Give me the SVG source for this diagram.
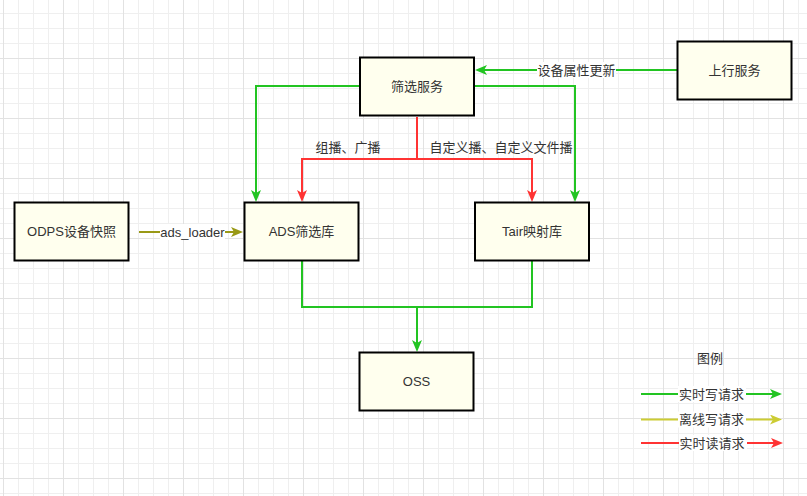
<svg xmlns="http://www.w3.org/2000/svg" width="807" height="496" viewBox="0 0 807 496">
  <defs>
    <pattern id="grid" patternUnits="userSpaceOnUse" x="3" y="-2" width="60" height="60">
      <path d="M15.5,0 V60 M30.5,0 V60 M45.5,0 V60 M0,15.5 H60 M0,30.5 H60 M0,45.5 H60" stroke="#efefef" stroke-width="1" fill="none"/>
      <path d="M0.5,0 V60 M0,0.5 H60" stroke="#e2e2e2" stroke-width="1" fill="none"/>
    </pattern>
    <marker id="ag" viewBox="0 0 12 10" refX="6" refY="5" markerWidth="12" markerHeight="10" markerUnits="userSpaceOnUse" orient="auto">
      <path d="M0,0 L12,5 L0,10 L3,5 Z" fill="#22c422"/>
    </marker>
    <marker id="ar" viewBox="0 0 12 10" refX="6" refY="5" markerWidth="12" markerHeight="10" markerUnits="userSpaceOnUse" orient="auto">
      <path d="M0,0 L12,5 L0,10 L3,5 Z" fill="#ff3333"/>
    </marker>
    <marker id="ao" viewBox="0 0 12 10" refX="6" refY="5" markerWidth="12" markerHeight="10" markerUnits="userSpaceOnUse" orient="auto">
      <path d="M0,0 L12,5 L0,10 L3,5 Z" fill="#999916"/>
    </marker>
    <marker id="ay" viewBox="0 0 12 10" refX="6" refY="5" markerWidth="12" markerHeight="10" markerUnits="userSpaceOnUse" orient="auto">
      <path d="M0,0 L12,5 L0,10 L3,5 Z" fill="#cccc33"/>
    </marker>
  </defs>
  <style>
    .box { fill: #ffffee; stroke: #000000; stroke-width: 2; }
    .t { font-family: "Liberation Sans", "Noto Sans CJK SC", sans-serif; font-size: 13px; fill: #333333; text-anchor: middle; }
    .g { fill: none; stroke: #22c422; stroke-width: 2; }
    .r { fill: none; stroke: #ff3333; stroke-width: 2; }
    .o { fill: none; stroke: #999916; stroke-width: 2; }
    .y { fill: none; stroke: #cccc33; stroke-width: 2; }
    .bg { fill: #ffffff; }
  </style>
  <rect x="0" y="0" width="807" height="496" fill="#ffffff"/>
  <rect x="0" y="0" width="807" height="496" fill="url(#grid)"/>

  <g id="connectors">
    <path class="g" d="M677,70 H481" marker-end="url(#ag)"/>
    <rect class="bg" x="537" y="62" width="79" height="16"/>
    <text class="t" x="576.5" y="74.5">设备属性更新</text>

    <path class="g" d="M360,86 H256 V196" marker-end="url(#ag)"/>
    <path class="g" d="M474,86 H575 V196" marker-end="url(#ag)"/>

    <path class="r" d="M417,117 V159 H302 V196" marker-end="url(#ar)"/>
    <path class="r" d="M417,159 H532 V196" marker-end="url(#ar)"/>
    <text class="t" x="348" y="151.5">组播、广播</text>
    <text class="t" x="501" y="151.5">自定义播、自定义文件播</text>

    <path class="o" d="M139,232 H237" marker-end="url(#ao)"/>
    <rect class="bg" x="160" y="224" width="65" height="16"/>
    <text class="t" x="192.5" y="236.5">ads_loader</text>

    <path class="g" d="M302,261 V307 H417 V346" marker-end="url(#ag)"/>
    <path class="g" d="M532,261 V307 H417"/>
  </g>

  <g id="node-filter">
    <rect class="box" x="360" y="57.5" width="114" height="58"/>
    <text class="t" x="417" y="91">筛选服务</text>
  </g>
  <g id="node-uplink">
    <rect class="box" x="677.5" y="41.5" width="114" height="58"/>
    <text class="t" x="734.5" y="75">上行服务</text>
  </g>
  <g id="node-odps">
    <rect class="box" x="14.5" y="202.5" width="114" height="58"/>
    <text class="t" x="71.5" y="236">ODPS设备快照</text>
  </g>
  <g id="node-ads">
    <rect class="box" x="244.5" y="202.5" width="114" height="58"/>
    <text class="t" x="301.5" y="236">ADS筛选库</text>
  </g>
  <g id="node-tair">
    <rect class="box" x="475" y="202.5" width="114" height="58"/>
    <text class="t" x="532" y="236">Tair映射库</text>
  </g>
  <g id="node-oss">
    <rect class="box" x="359.5" y="352.5" width="114" height="58"/>
    <text class="t" x="416.5" y="386">OSS</text>
  </g>

  <g id="legend">
    <text class="t" x="710" y="362.5">图例</text>
    <path class="g" d="M641,394 H776" marker-end="url(#ag)"/>
    <rect class="bg" x="678" y="386" width="68" height="16"/>
    <text class="t" x="711.5" y="398.5">实时写请求</text>
    <path class="y" d="M641,419.5 H776" marker-end="url(#ay)"/>
    <rect class="bg" x="678" y="411.5" width="68" height="16"/>
    <text class="t" x="711.5" y="424">离线写请求</text>
    <path class="r" d="M641,443 H777" marker-end="url(#ar)"/>
    <rect class="bg" x="679" y="435" width="68" height="16"/>
    <text class="t" x="712" y="447.5">实时读请求</text>
  </g>
</svg>
